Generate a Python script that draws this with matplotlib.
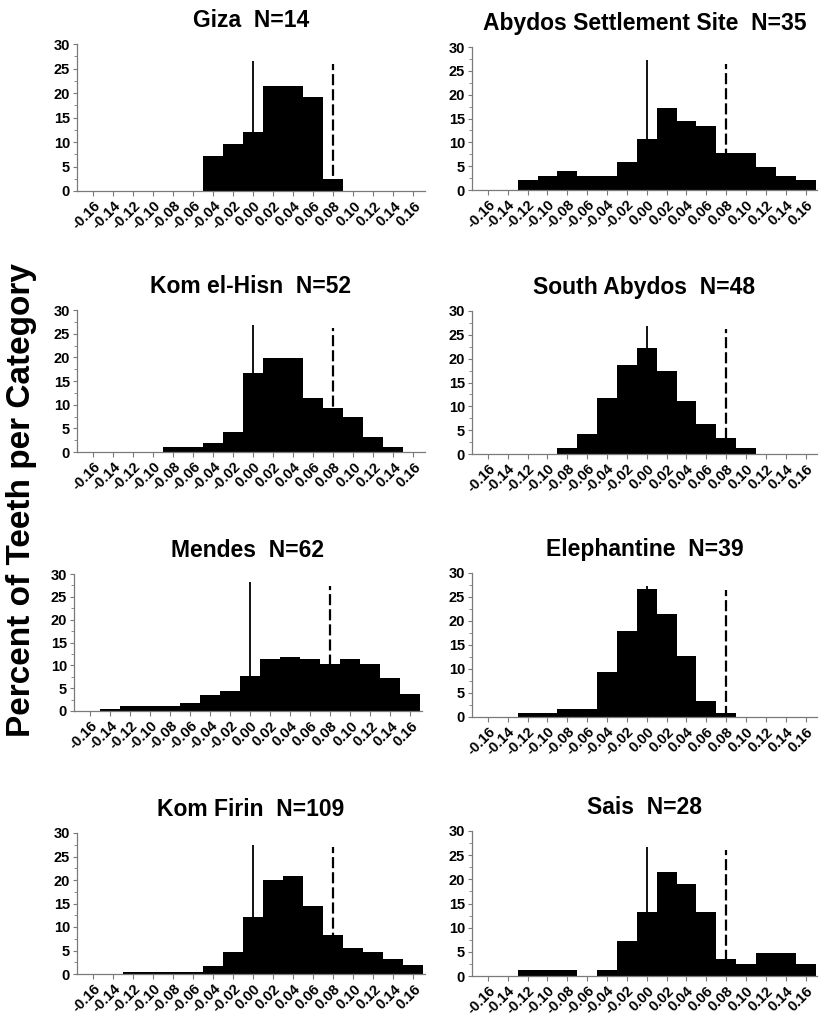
import numpy as np
import matplotlib
matplotlib.use("Agg")
import matplotlib.pyplot as plt
from matplotlib.ticker import MultipleLocator

plt.rcParams["font.family"] = ["Liberation Sans", "DejaVu Sans"]
plt.rcParams["font.weight"] = "bold"

# bin centres, shared by every panel
BINS = [-0.16, -0.14, -0.12, -0.10, -0.08, -0.06, -0.04, -0.02, 0.00,
        0.02, 0.04, 0.06, 0.08, 0.10, 0.12, 0.14, 0.16]
TICK_LABELS = ["-0.16", "-0.14", "-0.12", "-0.10", "-0.08", "-0.06", "-0.04", "-0.02",
               "0.00", "0.02", "0.04", "0.06", "0.08", "0.10", "0.12", "0.14", "0.16"]

SITES = ["Giza  N=14", "Abydos Settlement Site  N=35",
         "Kom el-Hisn  N=52", "South Abydos  N=48",
         "Mendes  N=62", "Elephantine  N=39",
         "Kom Firin  N=109", "Sais  N=28"]

giza = [0, 0, 0, 0, 0, 0, 7.2, 9.6, 12.0, 21.5, 21.5, 19.1, 2.4, 0, 0, 0, 0]
abydos_settlement = [0, 0, 2.0, 2.9, 3.9, 2.9, 2.9, 5.8, 10.7, 17.2, 14.4, 13.5, 7.7, 7.7, 4.8, 2.9, 2.0]
kom_el_hisn = [0, 0, 0, 0, 1.0, 1.0, 2.0, 4.2, 16.7, 19.8, 19.8, 11.5, 9.4, 7.3, 3.1, 1.0, 0]
south_abydos = [0, 0, 0, 0, 1.3, 4.2, 11.8, 18.7, 22.2, 17.4, 11.1, 6.3, 3.4, 1.3, 0, 0, 0]
mendes = [0, 0.5, 1.1, 1.1, 1.1, 1.7, 3.4, 4.4, 7.6, 11.3, 11.9, 11.3, 10.4, 11.3, 10.4, 7.2, 3.8]
elephantine = [0, 0, 0.9, 0.9, 1.7, 1.7, 9.4, 18.0, 26.6, 21.5, 12.8, 3.4, 0.9, 0, 0, 0, 0]
kom_firin = [0, 0, 0.4, 0.4, 0.4, 0.4, 1.6, 4.6, 12.2, 19.9, 20.8, 14.4, 8.3, 5.5, 4.6, 3.1, 1.9]
sais = [0, 0, 1.2, 1.2, 1.2, 0, 1.2, 7.2, 13.2, 21.5, 19.1, 13.2, 3.6, 2.4, 4.8, 4.8, 2.4]

SERIES = [giza, abydos_settlement, kom_el_hisn, south_abydos,
          mendes, elephantine, kom_firin, sais]

# reference lines: solid at 0.00, dashed at 0.08, with their top heights
SOLID_X = 0.0
DASHED_X = 0.08
SOLID_TOP = [26.6, 27.3, 26.8, 26.8, 28.2, 27.2, 27.5, 26.6]
DASHED_TOP = [26.0, 26.5, 26.3, 26.3, 27.4, 26.5, 27.0, 26.0]

W, H = 820, 1019
# axes boxes in pixels: left, right, top (y=30), bottom (y=0)
BOXES = [
    (77, 425, 44, 191), (472, 817, 47, 190),
    (77, 425, 310, 452), (472, 817, 311, 454),
    (74, 422, 574, 711), (472, 817, 573, 717),
    (77, 425, 833, 974), (472, 817, 831, 976),
]

fig = plt.figure(figsize=(W / 100, H / 100), dpi=100)
grey = "#7a7a7a"

for i, (title, vals) in enumerate(zip(SITES, SERIES)):
    l, r, t, b = BOXES[i]
    ax = fig.add_axes([l / W, 1 - b / H, (r - l) / W, (b - t) / H])
    ax.bar(BINS, vals, width=0.02, color="black", edgecolor="black", linewidth=0)
    ax.vlines(SOLID_X, 0, SOLID_TOP[i], color="black", linewidth=1.3)
    ax.vlines(DASHED_X, 0, DASHED_TOP[i], color="black", linewidth=1.6,
              linestyles=(0, (5, 1.8)))

    ax.set_xlim(-0.176, 0.1715)
    ax.set_ylim(0, 30)
    ax.set_xticks(BINS)
    ax.set_xticklabels(TICK_LABELS, rotation=45, ha="right", va="top",
                       rotation_mode="anchor", fontsize=10.5, fontweight="bold")
    ax.yaxis.set_major_locator(MultipleLocator(5))
    ax.yaxis.set_minor_locator(MultipleLocator(2.5))
    for lab in ax.get_yticklabels():
        lab.set_fontsize(10.5)
        lab.set_fontweight("bold")
    ax.tick_params(axis="x", length=3.5, width=0.8, color=grey, pad=2)
    ax.tick_params(axis="y", which="major", length=3, width=0.8, color=grey, pad=2)
    ax.tick_params(axis="y", which="minor", length=2, width=0.6, color=grey)
    for side in ("top", "right"):
        ax.spines[side].set_visible(False)
    for side in ("left", "bottom"):
        ax.spines[side].set_color(grey)
        ax.spines[side].set_linewidth(0.9)
    ax.set_title(title, fontsize=16.5, fontweight="bold", pad=12)

fig.text(22 / W, 1 - 500 / H, "Percent of Teeth per Category", rotation=90,
         ha="center", va="center", fontsize=24, fontweight="bold")

fig.savefig("out.png", dpi=100)
